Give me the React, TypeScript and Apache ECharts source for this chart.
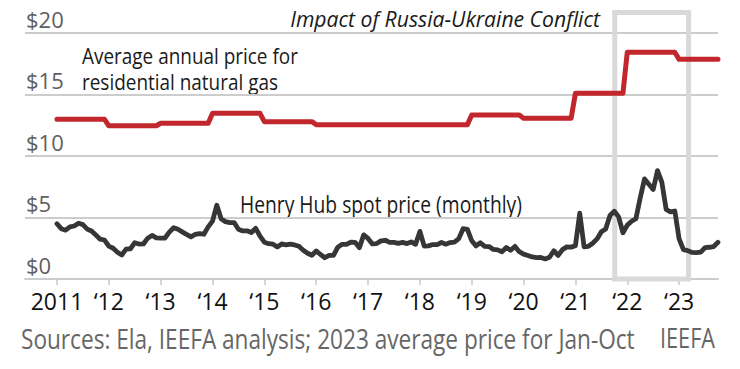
import React, { useEffect, useRef } from "react";
import * as echarts from "echarts";

// ---- Data ----
const years = [2011, 2012, 2013, 2014, 2015, 2016, 2017, 2018, 2019, 2020, 2021, 2022, 2023];
const yearTickLabels = ["2011", "\u201812", "\u201813", "\u201814", "\u201815", "\u201816", "\u201817", "\u201818", "\u201819", "\u201820", "\u201821", "\u201822", "\u201823"];
const monthsPerYear = [12, 12, 12, 12, 12, 12, 12, 12, 12, 12, 12, 12, 10];

// Average annual residential natural gas price ($)
const residentialAnnual = [12.98, 12.46, 12.66, 13.47, 12.79, 12.55, 12.55, 12.55, 13.33, 13.06, 15.1, 18.43, 17.86];

// Henry Hub monthly spot price ($)
const hh2011 = [4.49, 4.09, 3.97, 4.24, 4.31, 4.54, 4.42, 4.06, 3.9, 3.57, 3.24, 3.17];
const hh2012 = [2.67, 2.5, 2.17, 1.95, 2.43, 2.46, 2.95, 2.84, 2.85, 3.32, 3.54, 3.34];
const hh2013 = [3.33, 3.33, 3.81, 4.17, 4.04, 3.83, 3.62, 3.43, 3.62, 3.68, 3.64, 4.24];
const hh2014 = [4.71, 6.0, 4.9, 4.66, 4.58, 4.59, 4.05, 3.91, 3.92, 3.78, 4.12, 3.48];
const hh2015 = [2.99, 2.87, 2.83, 2.61, 2.85, 2.78, 2.84, 2.77, 2.66, 2.34, 2.09, 1.93];
const hh2016 = [2.28, 1.99, 1.73, 1.92, 1.92, 2.59, 2.82, 2.82, 2.99, 2.98, 2.55, 3.59];
const hh2017 = [3.3, 2.85, 2.88, 3.1, 3.15, 2.98, 2.98, 2.9, 2.98, 2.88, 3.01, 2.82];
const hh2018 = [3.87, 2.67, 2.69, 2.8, 2.8, 2.97, 2.83, 2.96, 3.0, 3.28, 4.09, 4.04];
const hh2019 = [3.11, 2.69, 2.95, 2.65, 2.64, 2.4, 2.37, 2.22, 2.56, 2.33, 2.65, 2.22];
const hh2020 = [2.02, 1.91, 1.79, 1.74, 1.75, 1.63, 1.77, 2.3, 1.92, 2.39, 2.61, 2.59];
const hh2021 = [2.71, 5.35, 2.62, 2.66, 2.91, 3.26, 3.84, 4.07, 5.16, 5.51, 5.05, 3.76];
const hh2022 = [4.38, 4.69, 4.9, 6.6, 8.14, 7.7, 7.28, 8.81, 7.88, 5.66, 5.45, 5.53];
const hh2023 = [3.27, 2.38, 2.31, 2.16, 2.15, 2.18, 2.55, 2.58, 2.64, 2.98];

const yTicks = [0, 5, 10, 15, 20];
// Conflict highlight window, in months since Jan 2011, and its top in $
const conflictStartMonth = 129.1;
const conflictEndMonth = 146.2;
const conflictTop = 21.67;

const FAMILY = "'Open Sans', 'Noto Sans', sans-serif";

let measureCtx: CanvasRenderingContext2D | null = null;
function measureWidth(text: string, font: string): number {
  if (!measureCtx) measureCtx = document.createElement("canvas").getContext("2d");
  if (!measureCtx) return 1;
  measureCtx.font = font;
  return measureCtx.measureText(text).width || 1;
}

type Note = {
  text: string;
  x: number;
  y: number;
  width: number;
  size: number;
  align: "left" | "right";
  fill: string;
  italic?: boolean;
};

function noteElement(n: Note) {
  const fontStyle = n.italic ? "italic" : "normal";
  const w = measureWidth(n.text, `${fontStyle} ${n.size}px ${FAMILY}`);
  return {
    type: "text",
    x: n.x,
    y: n.y,
    scaleX: n.width / w,
    silent: true,
    style: {
      text: n.text,
      textAlign: n.align,
      textVerticalAlign: "middle",
      fontSize: n.size,
      fontStyle,
      fontFamily: FAMILY,
      fill: n.fill,
    },
  };
}

export default function App() {
  const ref = useRef<HTMLDivElement>(null);

  useEffect(() => {
    if (!ref.current) return;
    const chart = echarts.init(ref.current, null, { renderer: "svg" });

    const henryHub = [
      ...hh2011, ...hh2012, ...hh2013, ...hh2014, ...hh2015, ...hh2016, ...hh2017,
      ...hh2018, ...hh2019, ...hh2020, ...hh2021, ...hh2022, ...hh2023,
    ];
    const hhData = henryHub.map((v, i) => [i, v]);

    const resData: number[][] = [];
    years.forEach((_, k) => {
      const start = k * 12;
      resData.push([start, residentialAnnual[k]]);
      resData.push([start + monthsPerYear[k] - 1, residentialAnnual[k]]);
    });

    const tickMonths = years.map((_, k) => k * 12);

    const notes: Note[] = [
      { text: "Impact of Russia-Ukraine Conflict", x: 600, y: 18, width: 310, size: 22, align: "right", fill: "#1a1a1a", italic: true },
      { text: "Average annual price for", x: 82, y: 55, width: 216, size: 22, align: "left", fill: "#1a1a1a" },
      { text: "residential natural gas", x: 82, y: 81, width: 196, size: 22, align: "left", fill: "#1a1a1a" },
      { text: "Henry Hub spot price (monthly)", x: 240, y: 204, width: 282, size: 23, align: "left", fill: "#1a1a1a" },
      { text: "Sources: Ela, IEEFA analysis; 2023 average price for Jan-Oct", x: 21, y: 338, width: 614, size: 28, align: "left", fill: "#666666" },
      { text: "IEEFA", x: 715, y: 338, width: 55, size: 27, align: "right", fill: "#666666" },
    ];

    chart.setOption({
      animation: false,
      backgroundColor: "#ffffff",
      textStyle: { fontFamily: FAMILY },
      grid: { left: 25, right: 22, top: 8.4, bottom: 90, containLabel: false },
      xAxis: {
        type: "value",
        min: -7.4,
        max: 153,
        splitLine: { show: false },
        axisLine: { show: true, lineStyle: { color: "#cccccc", width: 2 } },
        axisTick: {
          show: true,
          customValues: tickMonths,
          length: 6,
          lineStyle: { color: "#c8c8c8", width: 1.5 },
        },
        axisLabel: {
          customValues: tickMonths,
          formatter: (v: number) => yearTickLabels[Math.round(v / 12)] ?? "",
          color: "#111111",
          fontSize: 23,
          fontFamily: FAMILY,
          margin: 10,
        },
      },
      yAxis: {
        type: "value",
        min: 0,
        max: 22,
        interval: 5,
        axisLine: { show: false },
        axisTick: { show: false },
        splitLine: { show: true, showMaxLine: false, lineStyle: { color: "#cccccc", width: 2 } },
        axisLabel: {
          inside: true,
          customValues: yTicks,
          formatter: (v: number) => "$" + v + "\n ",
          color: "#5f5f5f",
          fontSize: 22,
          lineHeight: 29,
          fontFamily: FAMILY,
          margin: 1,
          align: "left",
          verticalAlign: "middle",
        },
      },
      series: [
        {
          type: "line",
          name: "Residential",
          data: resData,
          showSymbol: false,
          lineStyle: { color: "#c1272d", width: 5, join: "round", cap: "round" },
          z: 3,
        },
        {
          type: "line",
          name: "Henry Hub",
          data: hhData,
          showSymbol: false,
          lineStyle: { color: "#363636", width: 4.8, join: "round", cap: "round" },
          z: 4,
          markArea: {
            silent: true,
            itemStyle: { color: "rgba(0,0,0,0)", borderColor: "#d9d9d9", borderWidth: 5 },
            data: [[
              { xAxis: conflictStartMonth, yAxis: 0 },
              { xAxis: conflictEndMonth, yAxis: conflictTop },
            ]],
          },
        },
      ],
      graphic: notes.map(noteElement),
    });

    return () => chart.dispose();
  }, []);

  return (
    <div
      ref={ref}
      style={{ position: "absolute", left: 0, top: 0, width: 740, height: 369 }}
    />
  );
}
